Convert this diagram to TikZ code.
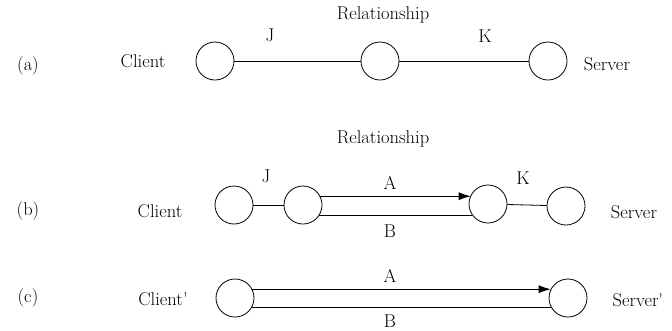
\documentclass[tikz,border=0pt]{standalone}
\usetikzlibrary{arrows.meta}
\begin{document}
\begin{tikzpicture}[x=1pt,y=-1pt,
  nd/.style={draw,circle,minimum size=38pt,inner sep=0pt,line width=0.8pt},
  lbl/.style={inner sep=0pt,font=\fontsize{18.5}{20}\selectfont},
  ln/.style={line width=0.8pt},
  arr/.style={line width=0.8pt,-{Latex[length=12pt,width=8pt]}}]
\useasboundingbox (0,0) rectangle (672,330);
% (a)
\node[lbl] (la) at (28,66) {(a)};
\node[nd] (a1) at (215,61) {};
\node[nd] (a2) at (380,61) {};
\node[nd] (a3) at (548,61) {};
\node[lbl] (ca) at (143,61) {Client};
\node[lbl] (sa) at (607,64) {Server};
\node[lbl] (ra) at (383,15) {Relationship};
\node[lbl] (ja) at (270,35) {J};
\node[lbl] (ka) at (485,36) {K};
\draw[ln] (a1) -- (a2);
\draw[ln] (a2) -- (a3);
% (b)
\node[lbl] (lb) at (28,211) {(b)};
\node[nd] (b1) at (234,205) {};
\node[nd] (b2) at (303,205) {};
\node[nd] (b3) at (488,204) {};
\node[nd] (b4) at (566,206) {};
\node[lbl] (cb) at (160,211) {Client};
\node[lbl] (sb) at (634,212) {Server};
\node[lbl] (rb) at (383,139) {Relationship};
\node[lbl] (jb) at (266,176) {J};
\node[lbl] (kb) at (523,178) {K};
\draw[ln] (b1) -- (b2);
\draw[arr] (b2.27) -- (b2.27 -| b3.153);
\draw[ln] (b2.-33) -- (b2.-33 -| b3.-147);
\node[lbl] (ab) at (390,183) {A};
\node[lbl] (bb) at (390,231) {B};
\draw[ln] (b3) -- (b4);
% (c)
\node[lbl] (lc) at (28,298) {(c)};
\node[nd] (c1) at (235,298) {};
\node[nd] (c2) at (568,298) {};
\node[lbl] (cc) at (163,299) {Client\textquotesingle};
\node[lbl] (sc) at (638,300) {Server\textquotesingle};
\draw[arr] (c1.27) -- (c2.153);
\draw[ln] (c1.-30) -- (c2.-150);
\node[lbl] (ac) at (390,276) {A};
\node[lbl] (bc) at (390,321) {B};
\end{tikzpicture}
\end{document}
